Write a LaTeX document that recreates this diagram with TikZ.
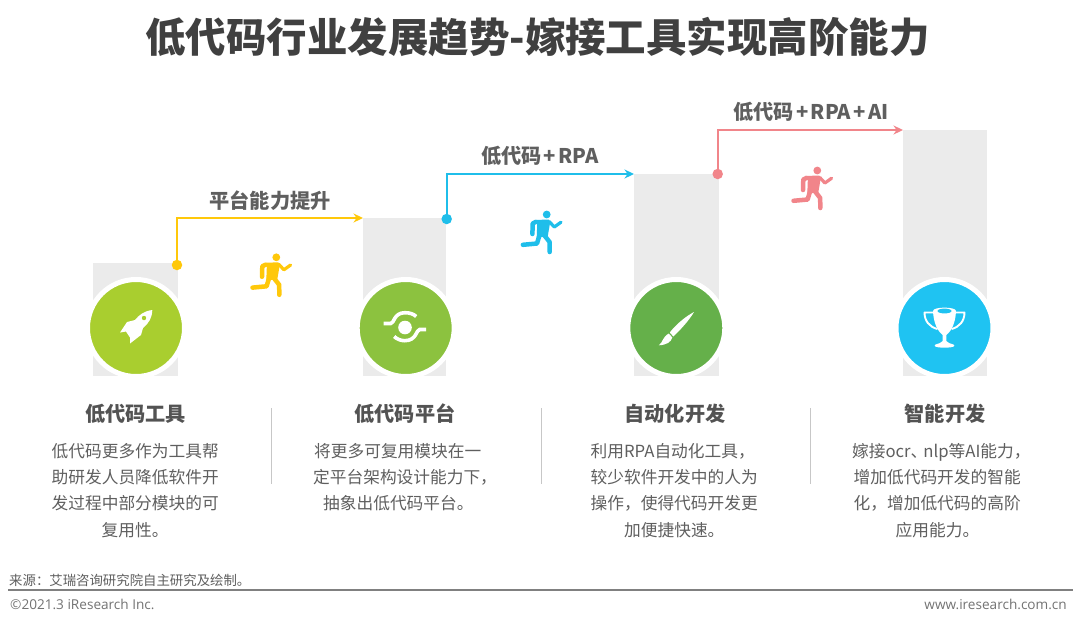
\documentclass[tikz,border=0pt]{standalone}
\usepackage{fontspec}
\setmainfont{Noto Sans CJK SC}
\newfontfamily\latinfoot{Open Sans}
\usetikzlibrary{arrows.meta}
\definecolor{txt}{HTML}{5F5F5F}
\definecolor{ttl}{HTML}{404040}
\definecolor{barc}{HTML}{EBEBEB}
\definecolor{cyel}{HTML}{FFC80A}
\definecolor{cblu}{HTML}{1FBEEA}
\definecolor{cred}{HTML}{F1858A}
\definecolor{gA}{HTML}{A9CE2F}
\definecolor{gB}{HTML}{8CC23F}
\definecolor{gC}{HTML}{65B04A}
\definecolor{gD}{HTML}{1FC3F2}
\newcommand{\fsz}[2]{\fontsize{#1pt}{#2pt}\selectfont}
\newcommand{\ind}[1]{\hspace*{#1pt}}
\newcommand{\pl}{\hspace{2.3pt}+\hspace{2.3pt}}
\tikzset{
  x=1pt,y=-1pt,
  barbox/.style={fill=barc,inner sep=0pt,outer sep=0pt,anchor=north west},
  disc/.style={circle,draw=white,line width=5pt,inner sep=0pt,outer sep=0pt,minimum size=97pt},
  dotnode/.style={circle,fill=#1,inner sep=0pt,minimum size=10.5pt},
  conn/.style={draw=#1,line width=1.7pt,-{Stealth[length=9.5pt,width=9pt]}},
  steplabel/.style={text=txt,font=\fsz{20.2}{22}\bfseries,inner sep=0pt},
  head/.style={text=ttl!90!white,font=\fsz{20.2}{22}\bfseries,inner sep=0pt},
  body/.style={text=txt,font=\fsz{16.7}{26.3},align=left,inner sep=0pt,anchor=north west},
  sep/.style={draw=black!22,line width=0.8pt},
  runner/.pic={
    \fill[#1] (0,0) circle (3.9);
    \fill[#1] (-12,5.5) -- (2,5) -- (3.5,7.5) -- (1,22) -- (-10,23) -- (-9.5,10) -- cycle;
    \draw[#1,line width=4.5pt,line cap=round,line join=round]
      (-11,7.5) -- (-14,9) -- (-14.3,19.5)
      (-3,20) -- (2.9,27.5) -- (3,37.5)
      (-7,20) -- (-9.7,29) -- (-23.8,30.3);
    \draw[#1,line width=3.2pt,line cap=round,line join=round]
      (2.5,7) -- (7.6,12.5) -- (14.3,7.7);
  },
  runner/.default=black
}
\begin{document}
\begin{tikzpicture}
\useasboundingbox (0,0) rectangle (1080,625);
\fill[white] (0,0) rectangle (1080,625);
\node[text=ttl,font=\fsz{40.45}{44}\bfseries,inner sep=0pt] (title) at (537.5,37) {低代码行业发展趋势-嫁接工具实现高阶能力};

\node[barbox,minimum width=85pt,minimum height=113pt] (bar1) at (93,263) {};
\node[barbox,minimum width=83pt,minimum height=158pt] (bar2) at (363,218) {};
\node[barbox,minimum width=85pt,minimum height=202pt] (bar3) at (634,174) {};
\node[barbox,minimum width=84pt,minimum height=246pt] (bar4) at (903,130) {};

\node[disc,fill=gA] (c1) at (136,328) {};
\node[disc,fill=gB] (c2) at (405.7,328) {};
\node[disc,fill=gC] (c3) at (676.3,328) {};
\node[disc,fill=gD] (c4) at (944.5,328) {};

% connectors
\node[dotnode=cyel] (d1) at (177,265) {};
\node[dotnode=cblu] (d2) at (446.7,219) {};
\node[dotnode=cred] (d3) at (717.7,174) {};
\coordinate (e1) at (bar2.north west);
\coordinate (e2) at (bar3.north west);
\coordinate (e3) at (bar4.north west);
\draw[conn=cyel] (d1.center) |- (e1);
\draw[conn=cblu] (d2.center) |- (e2);
\draw[conn=cred] (d3.center) |- (e3);

\node[steplabel] (l1) at (270,201) {平台能力提升};
\node[steplabel] (l2) at (540,156) {低代码\pl RPA};
\node[steplabel] (l3) at (811,112) {低代码\pl RPA\pl AI};

\pic at (276.3,257.3) {runner=cyel};
\pic at (546.7,214.5) {runner=cblu};
\pic at (817.3,170.5) {runner=cred};

% rocket
\begin{scope}[shift={(136,328)}]
  \fill[white] (16.3,-18) .. controls (8,-17) and (3,-13) .. (-1,-8)
     -- (-9,-6) -- (-16,4.5) -- (-10,3.5) -- (-6,9.5) -- (-6,15.5)
     -- (5,7) -- (7,0) .. controls (13,-5) and (16,-10) .. (16.3,-18) -- cycle;
  \fill[gA] (8,-10) circle (2.2);
\end{scope}
% sync
\begin{scope}[shift={(405.7,328)}]
  \fill[white] (-0.7,-0.5) circle (6.8);
  \draw[white,line width=3.6pt] (-22,-4.5) -- (-15,-4.5) .. controls (-11.5,-4.5) and (-12,-15.3) .. (-0.7,-15.3) .. controls (4,-15.3) and (8,-14) .. (10.5,-11.5);
  \draw[white,line width=3.6pt] (20.5,1.5) -- (14,1.5) .. controls (10.5,1.5) and (11,12.7) .. (-1,12.7) .. controls (-5,12.7) and (-9,11) .. (-11.5,8.5);
\end{scope}
% brush
\begin{scope}[shift={(676.3,328)}]
  \fill[white] (17.7,-16) .. controls (10,-12) and (0,-4) .. (-6.5,4.5) -- (-3,8.5)
     .. controls (5,1) and (13,-8) .. (17.7,-16) -- cycle;
  \fill[white] (-7.5,5.5) -- (-4,9.5) .. controls (-5,14) and (-10,17) .. (-17.5,17.3)
     .. controls (-13,14) and (-14,9) .. (-7.5,5.5) -- cycle;
\end{scope}
% trophy
\begin{scope}[shift={(944.5,328)}]
  \fill[white] (-11.5,-17) .. controls (-11.5,-21.5) and (11.5,-21.5) .. (11.5,-17)
     .. controls (11,-5) and (7,3) .. (1.8,7) -- (1.8,13) .. controls (3,15) and (6,15.5) .. (9,16.5)
     .. controls (11,18) and (10,19.5) .. (0,19.7) .. controls (-10,19.5) and (-11,18) .. (-9,16.5)
     .. controls (-6,15.5) and (-3,15) .. (-1.8,13) -- (-1.8,7) .. controls (-7,3) and (-11,-5) .. (-11.5,-17) -- cycle;
  \fill[gD] (0,-17) ellipse (7 and 2.4);
  \draw[white,line width=1.9pt,line join=round] (-11,-15.5) -- (-20,-15.5) .. controls (-20,-7) and (-15,-1) .. (-7,1);
  \draw[white,line width=1.9pt,line join=round] (11,-15.5) -- (20,-15.5) .. controls (20,-7) and (15,-1) .. (7,1);
\end{scope}

% text columns
\node[head] (h1) at (135.5,414) {低代码工具};
\node[head] (h2) at (405,414) {低代码平台};
\node[head] (h3) at (675,414) {自动化开发};
\node[head] (h4) at (945,414) {智能开发};
\node[body] (t1) at (51.5,443) {低代码更多作为工具帮\\助研发人员降低软件开\\发过程中部分模块的可\\\ind{50}复用性。};
\node[body] (t2) at (313,443) {\ind{1}将更多可复用模块在一\\定平台架构设计能力下，\\\ind{10}抽象出低代码平台。};
\node[body] (t3) at (590.5,443) {利用RPA自动化工具，\\较少软件开发中的人为\\操作，使得代码开发更\\\ind{33.5}加便捷快速。};
\node[body] (t4) at (852,443) {嫁接ocr、\hspace{-4pt}nlp等AI能力，\\\ind{1.5}增加低代码开发的智能\\\ind{1.5}化，增加低代码的高阶\\\ind{43.5}应用能力。};

\coordinate (s1a) at (271,408); \coordinate (s1b) at (271,484);
\coordinate (s2a) at (541,408); \coordinate (s2b) at (541,484);
\coordinate (s3a) at (810,408); \coordinate (s3b) at (810,484);
\draw[sep] (s1a) -- (s1b);
\draw[sep] (s2a) -- (s2b);
\draw[sep] (s3a) -- (s3b);

% footer
\node[text=txt,font=\fsz{13.4}{15},inner sep=0pt,anchor=west] (src) at (9,580) {来源：艾瑞咨询研究院自主研究及绘制。};
\coordinate (fa) at (8,590); \coordinate (fb) at (1073,590);
\draw[draw=black!50,line width=1.2pt] (fa) -- (fb);
\node[text=black!55,font=\latinfoot\fsz{13.6}{15},inner sep=0pt,anchor=west] (cr) at (10,604) {©2021.3 iResearch Inc.};
\node[text=black!55,font=\latinfoot\fsz{13.6}{15},inner sep=0pt,anchor=east] (web) at (1067,604) {www.iresearch.com.cn};
\end{tikzpicture}
\end{document}
